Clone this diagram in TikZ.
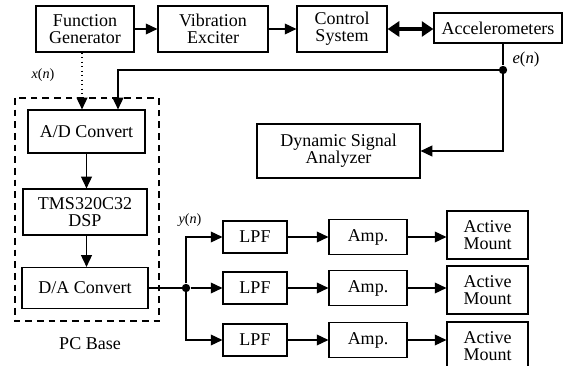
\documentclass[tikz,border=0pt]{standalone}
\usepackage{fontspec}
\setmainfont{Liberation Serif}
\usetikzlibrary{arrows.meta,calc}

\tikzset{
  blk/.style={draw, line width=0.7pt, align=center, inner sep=0pt},
  sz/.style 2 args={minimum width=#1*0.6pt, minimum height=#2*0.6pt},
  arr/.style={line width=0.7pt, -{Triangle[length=7pt,width=6.5pt]}},
  dbl/.style={line width=2.3pt, {Triangle[length=7pt,width=9pt]}-{Triangle[length=7pt,width=9pt]}},
  jdot/.style={circle, fill, inner sep=0pt, minimum size=5pt},
  sig/.style={font=\fontsize{8.5}{9}\selectfont}
}

\begin{document}
\begin{tikzpicture}[x=0.6pt, y=-0.6pt, font=\fontsize{10.8}{10.4}\selectfont]
  \useasboundingbox (0,0) rectangle (564,366);
  % Test rig along the top
  \node[blk, sz={98}{46}] (fg) at (85,29) {Function\\Generator};
  \node[blk, sz={110}{46}] (ve) at (213,29) {Vibration\\Exciter};
  \node[blk, sz={90}{46}] (cs) at (342,29) {Control\\System};
  \node[blk, sz={128}{30}] (acc) at (498,28) {Accelerometers};
  \draw[arr] (fg) -- (ve);
  \draw[arr] (ve) -- (cs);
  \draw[dbl] (cs.east) -- (acc.west |- cs.east);
  % PC base with the DSP
  \node[blk, sz={117}{43}] (ad) at (86.5,131.5) {A/D Convert};
  \node[blk, sz={124}{46}] (dsp) at (85,212) {TMS320C32\\DSP};
  \node[blk, sz={126}{41}] (da) at (85,288) {D/A Convert};
  \draw[line width=0.7pt, dash pattern=on 4pt off 3pt] (15,98) rectangle (159,321);
  \node (pcl) at (90,344) {PC Base};
  \draw[arr] (ad.south) -- (ad.south |- dsp.north);
  \draw[arr] (dsp.south -| ad.south) -- (ad.south |- da.north);
  % Reference and error signals
  \node[sig] (xn) at (43,75) {\textit{x}(\textit{n})};
  \node[jdot] (ej) at (503,70) {};
  \node[font=\fontsize{10}{11}\selectfont] (en) at (526,59) {\textit{e}(\textit{n})};
  \coordinate (fgout) at ($(fg.south)+(-3,0)$);
  \coordinate (adin) at ($(ad.north)+(31.5,0)$);
  \draw[arr, dotted] (fgout) -- (fgout |- ad.north);
  \draw[line width=0.7pt] (acc.south -| ej) -- (ej);
  \draw[arr] (ej) -| (adin);
  \node[blk, sz={163}{54}] (dsa) at (338.5,151) {Dynamic Signal\\Analyzer};
  \draw[arr] (ej) |- (dsa.east);
  % Output channels
  \node[jdot] (yj) at (186,288) {};
  \node[sig] (yn) at (190,220) {\textit{y}(\textit{n})};
  \draw[line width=0.7pt] (da) -- (yj);
  \foreach \i/\yy/\my in {1/237/235, 2/288/290, 3/340/346}{
    \node[blk, sz={64}{32}] (lpf\i) at (255,\yy) {LPF};
    \node[blk, sz={78}{35}] (amp\i) at (368,\yy) {Amp.};
    \node[blk, sz={81}{48}] (am\i) at (487.5,\my) {Active\\Mount};
    \draw[arr] (lpf\i) -- (amp\i);
    \draw[arr] (amp\i.east) -- (amp\i.east -| am\i.west);
  }
  \draw[arr] (yj) |- (lpf1);
  \draw[arr] (yj) -- (lpf2);
  \draw[arr] (yj) |- (lpf3);
\end{tikzpicture}
\end{document}
